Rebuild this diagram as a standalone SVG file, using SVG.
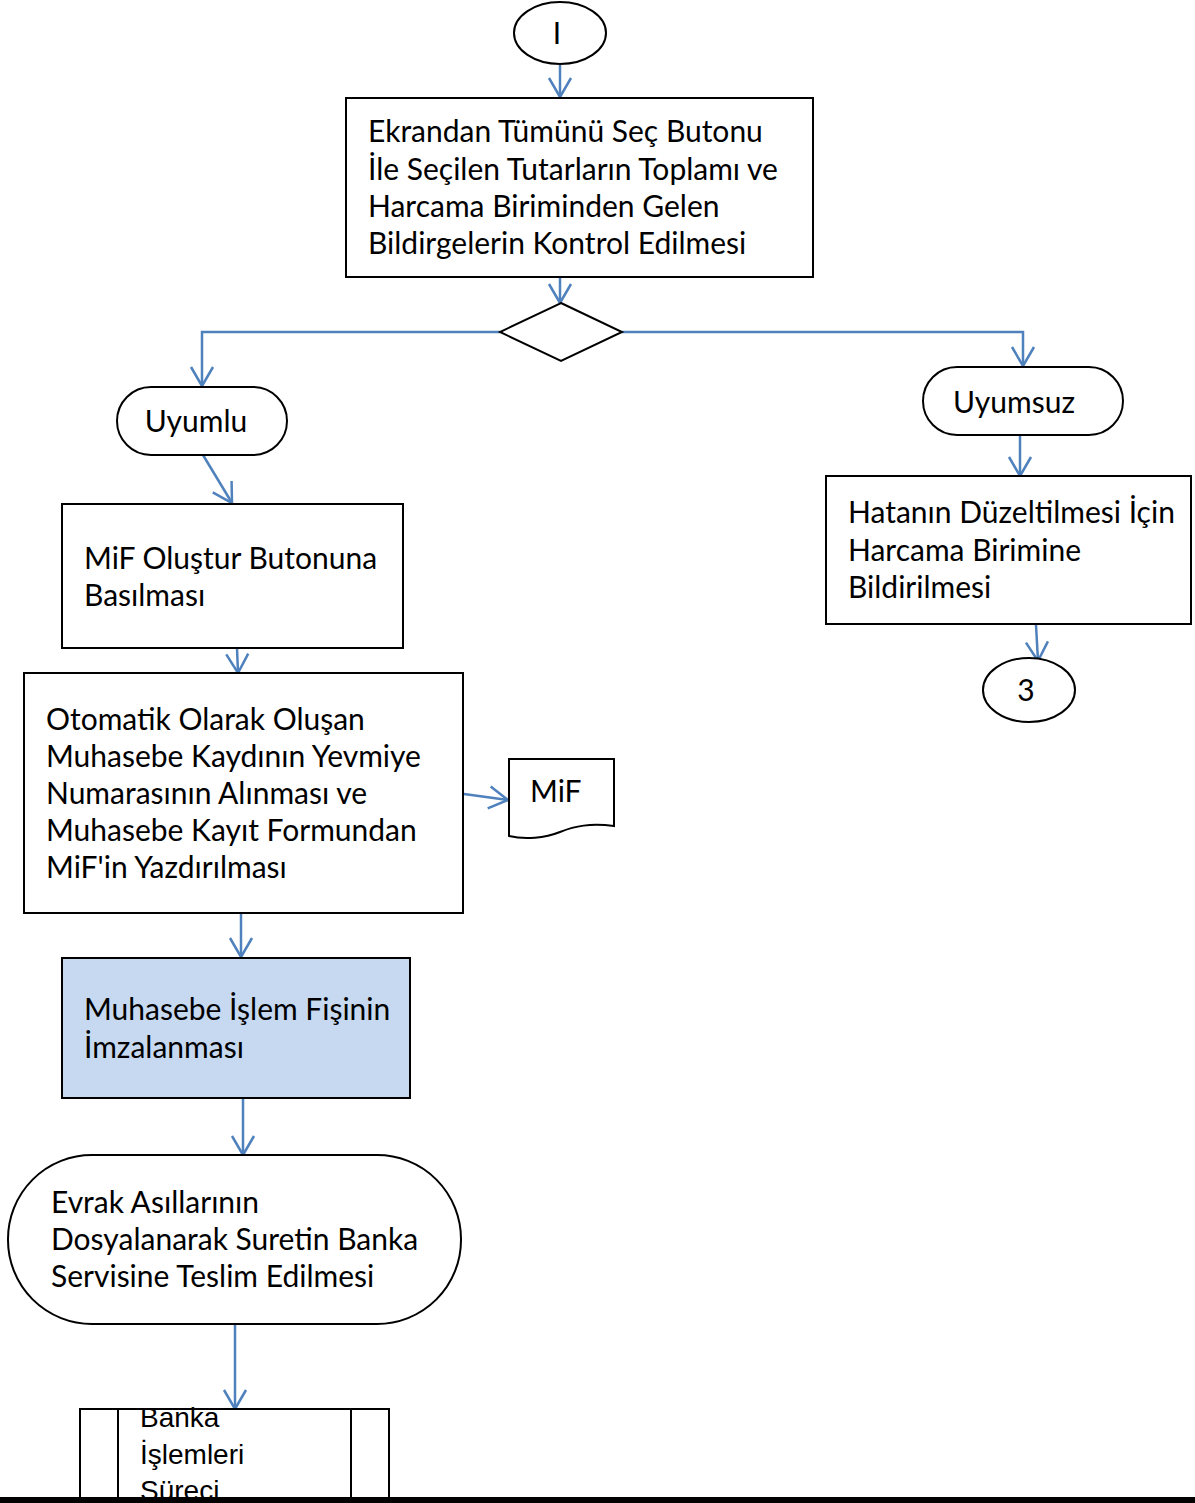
<svg xmlns="http://www.w3.org/2000/svg" width="1195" height="1503" viewBox="0 0 1195 1503">
<style>
.n{fill:#fff;stroke:#000;stroke-width:2}
.t{font-family:Lato,"Open Sans","Noto Sans",sans-serif;font-size:30px;fill:#000}
.c{fill:none;stroke:#4F81BD;stroke-width:2.5}
.nar{font-family:"Liberation Sans Narrow","Liberation Sans",sans-serif;font-size:28px;fill:#000}
</style>
<defs>
<marker id="a" markerWidth="24" markerHeight="26" refX="20" refY="13" orient="auto" markerUnits="userSpaceOnUse">
<polyline points="1,2 20,13 1,24" fill="none" stroke="#4F81BD" stroke-width="2.5"/>
</marker>
</defs>
<rect width="1195" height="1503" fill="#fff"/>
<g id="connectors">
<line class="c" x1="560" y1="65" x2="560" y2="97" marker-end="url(#a)"/>
<line class="c" x1="560" y1="277" x2="560" y2="303" marker-end="url(#a)"/>
<polyline class="c" points="500,332 202,332 202,386" marker-end="url(#a)"/>
<polyline class="c" points="622,332 1023,332 1023,366" marker-end="url(#a)"/>
<line class="c" x1="1020" y1="436" x2="1020" y2="476" marker-end="url(#a)"/>
<line class="c" x1="1036" y1="625" x2="1038" y2="661" marker-end="url(#a)"/>
<line class="c" x1="203" y1="455" x2="232" y2="503" marker-end="url(#a)"/>
<line class="c" x1="237" y1="648" x2="238" y2="673" marker-end="url(#a)"/>
<line class="c" x1="464" y1="794" x2="508" y2="800" marker-end="url(#a)"/>
<line class="c" x1="241" y1="914" x2="241" y2="957" marker-end="url(#a)"/>
<line class="c" x1="243" y1="1099" x2="243" y2="1155" marker-end="url(#a)"/>
<line class="c" x1="235" y1="1325" x2="235" y2="1409" marker-end="url(#a)"/>
</g>
<g id="start">
<ellipse class="n" cx="560" cy="33" rx="46" ry="31"/>
<text class="t" x="557" y="44" text-anchor="middle">I</text>
</g>
<g id="kontrol">
<rect class="n" x="346" y="98" width="467" height="179"/>
<text class="t" x="368" y="142">Ekrandan Tümünü Seç Butonu</text>
<text class="t" x="368" y="180">İle Seçilen Tutarların Toplamı ve</text>
<text class="t" x="368" y="217">Harcama Biriminden Gelen</text>
<text class="t" x="368" y="254">Bildirgelerin Kontrol Edilmesi</text>
</g>
<g id="karar">
<polygon class="n" points="561,303 622,332 561,361 500,332"/>
</g>
<g id="uyumlu">
<rect class="n" x="117" y="387" width="170" height="68" rx="34"/>
<text class="t" x="196" y="432" text-anchor="middle">Uyumlu</text>
</g>
<g id="uyumsuz">
<rect class="n" x="923" y="367" width="200" height="68" rx="34"/>
<text class="t" x="1014" y="413" text-anchor="middle">Uyumsuz</text>
</g>
<g id="hata">
<rect class="n" x="826" y="476" width="365" height="148"/>
<text class="t" x="848" y="523">Hatanın Düzeltilmesi İçin</text>
<text class="t" x="848" y="561">Harcama Birimine</text>
<text class="t" x="848" y="598">Bildirilmesi</text>
</g>
<g id="c3">
<ellipse class="n" cx="1029" cy="690" rx="46" ry="32"/>
<text class="t" x="1026" y="701" text-anchor="middle">3</text>
</g>
<g id="mifolustur">
<rect class="n" x="62" y="504" width="341" height="144"/>
<text class="t" x="84" y="569">MiF Oluştur Butonuna</text>
<text class="t" x="84" y="606">Basılması</text>
</g>
<g id="otomatik">
<rect class="n" x="24" y="673" width="439" height="240"/>
<text class="t" x="46" y="730">Otomatik Olarak Oluşan</text>
<text class="t" x="46" y="767">Muhasebe Kaydının Yevmiye</text>
<text class="t" x="46" y="804">Numarasının Alınması ve</text>
<text class="t" x="46" y="841">Muhasebe Kayıt Formundan</text>
<text class="t" x="46" y="878">MiF'in Yazdırılması</text>
</g>
<g id="mifdoc">
<path class="n" d="M509,759 H614 V826 C590,823 575,826 560,832 C545,838 525,840 509,836 Z"/>
<text class="t" x="530" y="802">MiF</text>
</g>
<g id="imza">
<rect x="62" y="958" width="348" height="140" fill="#C6D9F1" stroke="#000" stroke-width="2"/>
<text class="t" x="84" y="1020">Muhasebe İşlem Fişinin</text>
<text class="t" x="84" y="1058">İmzalanması</text>
</g>
<g id="evrak">
<rect class="n" x="8" y="1155" width="453" height="169" rx="84"/>
<text class="t" x="51" y="1213">Evrak Asıllarının</text>
<text class="t" x="51" y="1250">Dosyalanarak Suretin Banka</text>
<text class="t" x="51" y="1287">Servisine Teslim Edilmesi</text>
</g>
<g id="banka">
<rect class="n" x="80" y="1409" width="309" height="110"/>
<line x1="118" y1="1409" x2="118" y2="1503" stroke="#000" stroke-width="2"/>
<line x1="351" y1="1409" x2="351" y2="1503" stroke="#000" stroke-width="2"/>
<text class="nar" x="140" y="1427">Banka</text>
<text class="nar" x="140" y="1464">İşlemleri</text>
<text class="nar" x="140" y="1500">Süreci</text>
</g>
<rect x="0" y="1497" width="1195" height="6" fill="#000"/>
</svg>
